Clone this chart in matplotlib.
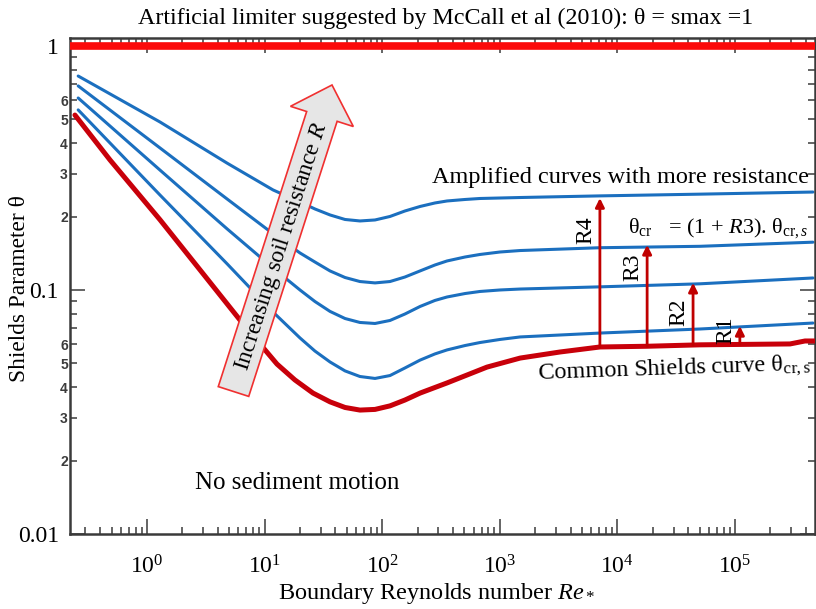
import numpy as np
import matplotlib as mpl
mpl.use('Agg')
import matplotlib.pyplot as plt
from matplotlib.patches import FancyArrow
from matplotlib.ticker import NullFormatter

plt.rcParams['font.family'] = ['Liberation Serif', 'DejaVu Serif']
plt.rcParams['mathtext.fontset'] = 'custom'
plt.rcParams['mathtext.rm'] = 'Liberation Serif'
plt.rcParams['mathtext.it'] = 'Liberation Serif:italic'
plt.rcParams['mathtext.bf'] = 'Liberation Serif:bold'

# common Shields curve
re_shields = [0.244, 0.485, 1.29, 2.82, 6.18, 9.14, 12.75, 18.1, 25.8, 36.0, 48.3, 64.7, 86.9,
              116.5, 156, 210, 356, 778, 1490, 3250, 7110, 17900, 50400, 2.94e5, 3.94e5, 4.8e5]
theta_shields = [0.521, 0.341, 0.194, 0.121, 0.0753, 0.0601, 0.0497, 0.0428, 0.0378, 0.0348,
                 0.0330, 0.0322, 0.0324, 0.0335, 0.0354, 0.0378, 0.0416, 0.0483, 0.0526, 0.0557,
                 0.0584, 0.0588, 0.0596, 0.0601, 0.0618, 0.0618]

# amplified curves R1..R4
re_amp = [0.26, 1.29, 4.8, 11.8, 20, 26.8, 36, 48.3, 64.7, 86.9, 116.5, 156, 210, 281, 356,
          506, 678, 1004, 1490, 7110, 50400, 4.6e5]
theta_r1 = [0.547, 0.245, 0.128, 0.0812, 0.0636, 0.0562, 0.0507, 0.0466, 0.0442, 0.0434, 0.0446,
            0.0479, 0.0516, 0.0547, 0.0568, 0.0592, 0.0609, 0.0627, 0.0642, 0.0666, 0.0692, 0.0732]
theta_r2 = [0.612, 0.310, 0.178, 0.123, 0.1000, 0.0897, 0.0817, 0.0764, 0.0736, 0.0729, 0.0750,
            0.0797, 0.0856, 0.0906, 0.0936, 0.0967, 0.0986, 0.1000, 0.1009, 0.103, 0.106, 0.112]
theta_r3 = [0.686, 0.382, 0.236, 0.170, 0.1418, 0.1302, 0.1197, 0.1125, 0.1083, 0.1069, 0.1083,
            0.1130, 0.1197, 0.1266, 0.1315, 0.1365, 0.1398, 0.1431, 0.1451, 0.149, 0.151, 0.157]
theta_r4 = [0.753, 0.488, 0.331, 0.257, 0.2294, 0.2148, 0.2030, 0.1945, 0.1918, 0.1936, 0.2001,
            0.2107, 0.2199, 0.2273, 0.2316, 0.2349, 0.2371, 0.2382, 0.2393, 0.243, 0.247, 0.252]

# limiter theta = smax = 1
theta_limit = 1.0

# the R arrows
arrow_names = ['R1', 'R2', 'R3', 'R4']
arrow_re = [1.1e5, 4.4e4, 1.79e4, 7.1e3]
arrow_lo = [0.0600, 0.0595, 0.0588, 0.0584]
arrow_hi = [0.0712, 0.107, 0.153, 0.238]
arrow_label_theta = [0.0686, 0.0813, 0.124, 0.176]

ytick_major = [0.01, 0.1, 1]
ytick_major_lbl = ['0.01', '0.1', '1']
ytick_minor = [m * 10.0**e for e in (-2, -1) for m in range(2, 10)]
ytick_minor_lbl = [str(m) if m <= 6 else '' for e in (-2, -1) for m in range(2, 10)]
xtick_major = [1, 10, 100, 1e3, 1e4, 1e5]

red_top = '#fb0a0a'
red_curve = '#c8000a'
red_arrow = '#c00000'
blue = '#1b6fbf'
spine_col = '#3a3a3a'

fig = plt.figure(figsize=(8.16, 6.09), dpi=100)
ax = fig.add_axes([70/816, 75/609, 745/816, 496/609])
ax.set_xscale('log')
ax.set_yscale('log')
ax.set_xlim(0.2215, 4.79e5)
ax.set_ylim(0.01, 1.078)

ax.axhline(theta_limit, color=red_top, lw=5.5, zorder=3)
for th in [theta_r1, theta_r2, theta_r3, theta_r4]:
    ax.plot(re_amp, th, color=blue, lw=2.2, solid_capstyle='round', solid_joinstyle='round', zorder=2)
ax.plot(re_shields, theta_shields, color=red_curve, lw=3.6, solid_capstyle='round',
        solid_joinstyle='round', zorder=3)

for name, x, lo, hi, ly in zip(arrow_names, arrow_re, arrow_lo, arrow_hi, arrow_label_theta):
    ax.annotate('', xy=(x, hi), xytext=(x, lo),
                arrowprops=dict(arrowstyle='-|>', color=red_arrow, lw=2, mutation_scale=13,
                                shrinkA=0, shrinkB=0), zorder=4)
    ax.annotate(name, xy=(x, ly), xytext=(-10, 0), textcoords='offset points',
                rotation=90, ha='center', va='center', fontsize=17, zorder=4)

ax.set_xticks(xtick_major)
ax.xaxis.set_minor_formatter(NullFormatter())
ax.set_yticks(ytick_major, ytick_major_lbl)
ax.set_yticks(ytick_minor, ytick_minor_lbl, minor=True, fontfamily='Liberation Sans',
              fontweight='bold', fontsize=10, color='#3c3c3c')
ax.tick_params(which='both', direction='in', top=True, right=True, width=1.1, color=spine_col)
ax.tick_params(which='major', length=11, labelsize=17)
ax.tick_params(which='minor', length=5)
ax.tick_params(axis='x', which='major', pad=15)
ax.tick_params(axis='y', which='major', pad=8)
ax.tick_params(axis='y', which='minor', pad=1.5)
for s in ax.spines.values():
    s.set_linewidth(1.8)
    s.set_color(spine_col)

# texts
ax.text(0.168, 0.103, 'No sediment motion', transform=ax.transAxes, fontsize=18, va='center')
ax.text(0.486, 0.718, 'Amplified curves with more resistance', transform=ax.transAxes,
        fontsize=17.5, va='center')
ax.text(0.749, 0.617, r'θ$_\mathrm{cr}$   = (1 + $R$3). θ$_{\mathrm{cr},s}$', transform=ax.transAxes,
        fontsize=16, va='center', zorder=5)
ax.text(0.627, 0.331, r'Common Shields curve θ$_\mathrm{cr,s}$', transform=ax.transAxes,
        fontsize=17.5, va='center', rotation=2, zorder=5)

fig.text(446/816, 1 - 18/609, 'Artificial limiter suggested by McCall et al (2010): θ = smax =1',
         ha='center', va='center', fontsize=17.3)
fig.text(20/816, 1 - 289/609, 'Shields Parameter θ', rotation=90, ha='center', va='center',
         fontsize=16.8)
fig.text(437/816, 1 - 594/609, r'Boundary Reynolds number $Re_*$', ha='center', va='center',
         fontsize=17.5)

# big slanted arrow (inches on the figure)
big = FancyArrow(2.335, 2.175, 0.985, 3.065, width=0.32, head_width=0.66, head_length=0.33,
                 length_includes_head=True, transform=fig.dpi_scale_trans,
                 facecolor='#e6e6e6', edgecolor='#f03030', lw=1.2, zorder=10)
fig.add_artist(big)
fig.text(2.82, 3.62, r'Increasing soil resistance $R$', transform=fig.dpi_scale_trans,
         rotation=72.2, rotation_mode='anchor', ha='center', va='center', fontsize=17, zorder=11)

plt.savefig('out.png', dpi=100)
